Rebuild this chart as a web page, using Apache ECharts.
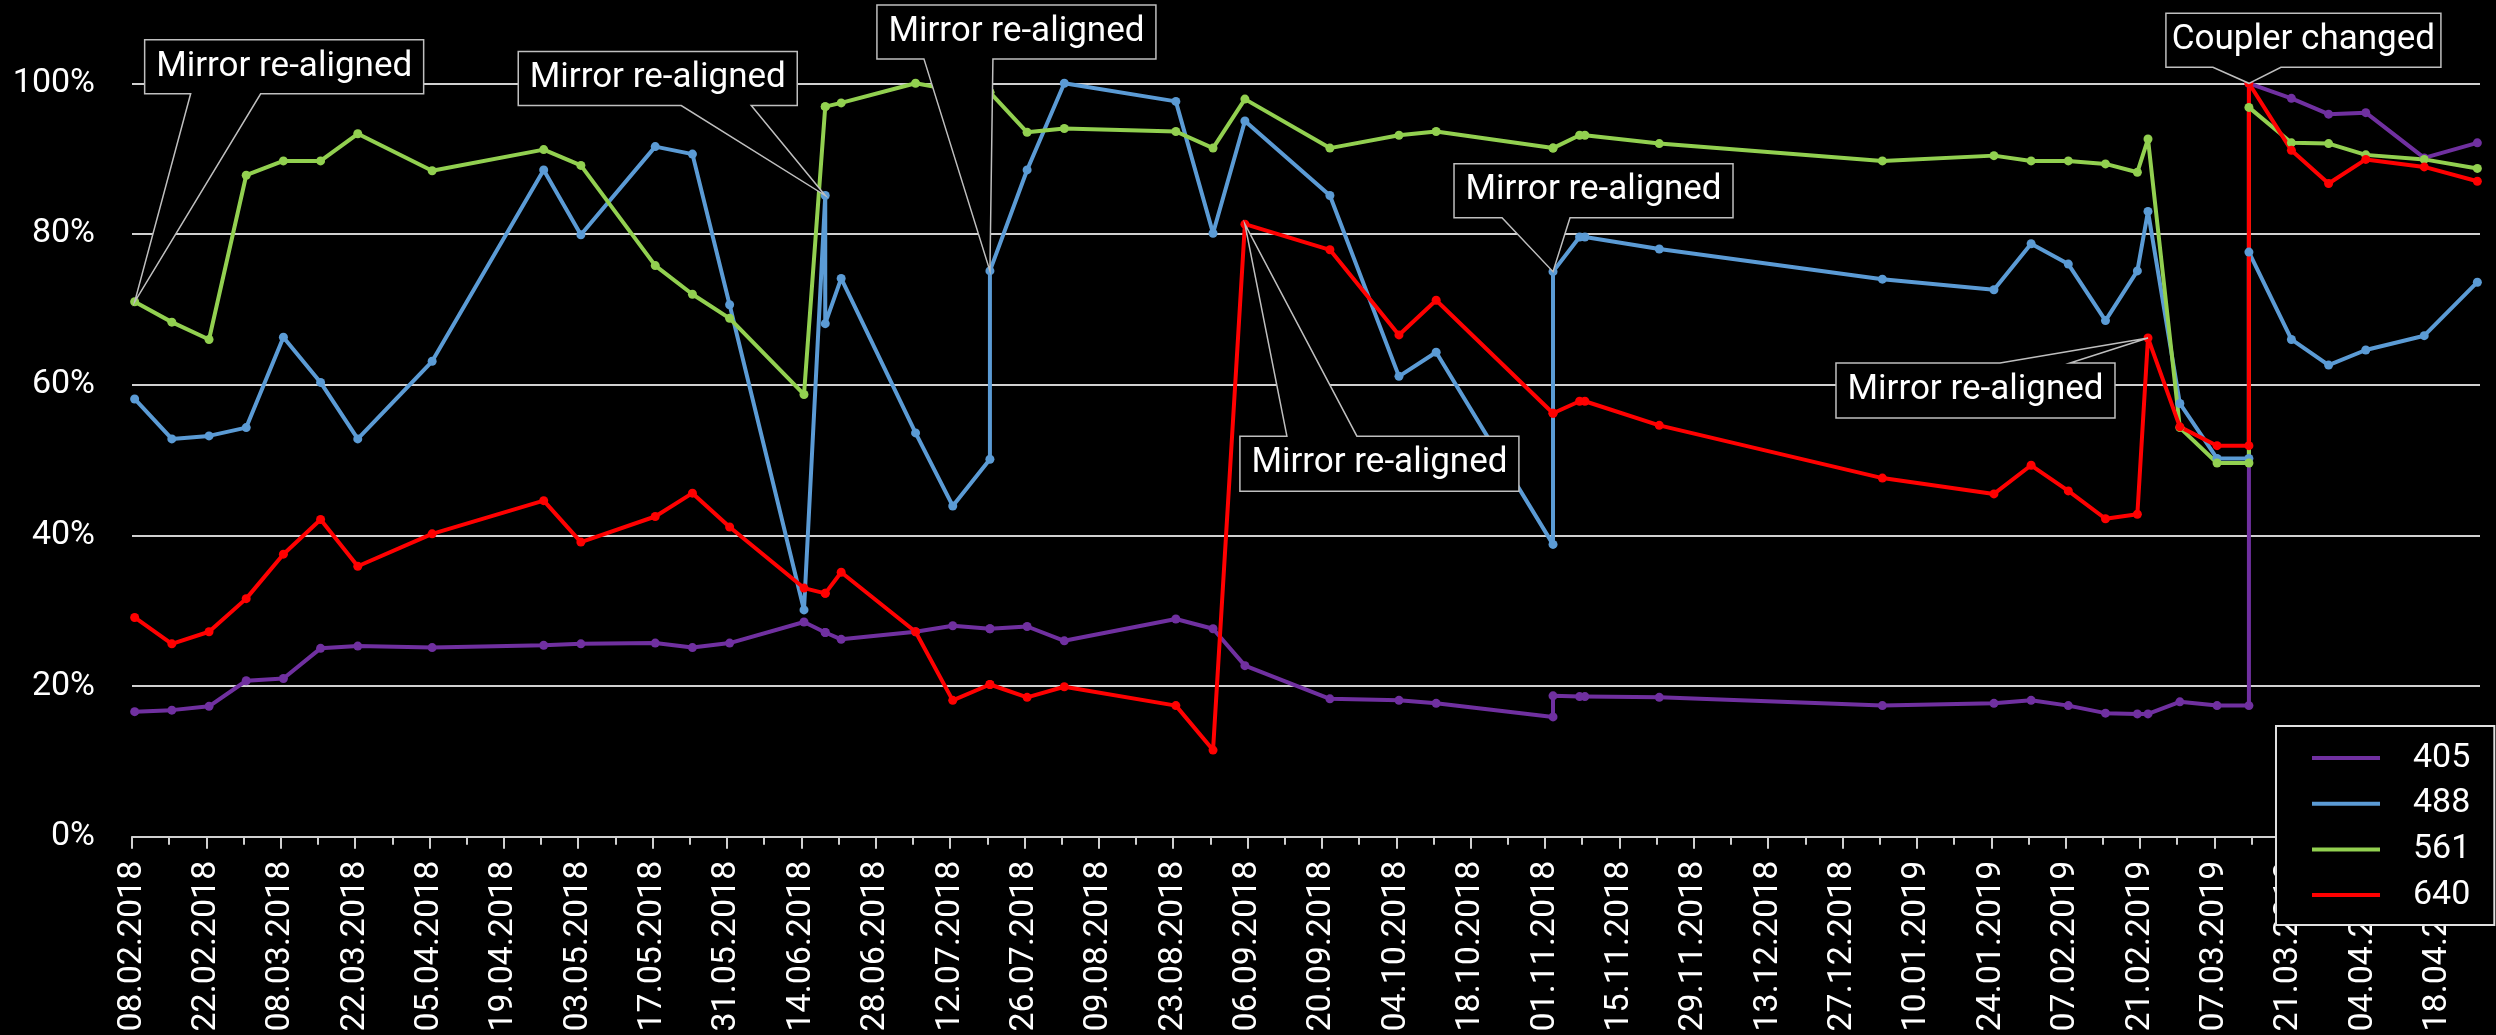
<!DOCTYPE html>
<html>
<head>
<meta charset="utf-8">
<script src="https://cdn.jsdelivr.net/npm/echarts@6/dist/echarts.min.js"></script>
<style>
  html, body { margin: 0; padding: 0; background: #000; }
  #chart { width: 2496px; height: 1035px; }
</style>
</head>
<body>
<div id="chart"></div>
<script>
// ---------------- DATA ----------------
const axisStart = '08.02.2018';
const axisEnd = '26.04.2019';
const dates = [
  '08.02.2018','15.02.2018','22.02.2018','01.03.2018','08.03.2018','15.03.2018','22.03.2018','05.04.2018',
  '26.04.2018','03.05.2018','17.05.2018','24.05.2018','31.05.2018','14.06.2018','18.06.2018','18.06.2018',
  '21.06.2018','05.07.2018','12.07.2018','19.07.2018','19.07.2018','26.07.2018','02.08.2018','23.08.2018',
  '30.08.2018','05.09.2018','21.09.2018','04.10.2018','11.10.2018','02.11.2018','02.11.2018','07.11.2018',
  '08.11.2018','22.11.2018','03.01.2019','24.01.2019','31.01.2019','07.02.2019','14.02.2019','20.02.2019',
  '22.02.2019','28.02.2019','07.03.2019','13.03.2019','13.03.2019','21.03.2019','28.03.2019','04.04.2019',
  '15.04.2019','25.04.2019'
];
const v405 = [
  16.6,16.8,17.3,20.7,21.0,25.0,25.3,25.1,
  25.4,25.6,25.7,25.1,25.7,28.5,27.1,27.1,
  26.2,27.2,28.0,27.6,27.6,27.9,26.0,28.9,
  27.6,22.7,18.3,18.1,17.7,15.9,18.7,18.6,
  18.6,18.5,17.4,17.7,18.1,17.4,16.4,16.3,
  16.3,17.9,17.4,17.4,100.0,98.0,95.9,96.1,
  90.1,92.1
];
const v488 = [
  58.1,52.8,53.2,54.3,66.3,60.3,52.8,63.1,
  88.5,79.9,91.6,90.6,70.6,30.1,85.1,68.1,
  74.1,53.6,43.9,50.1,75.1,88.5,100.0,97.6,
  80.1,95.0,85.1,61.1,64.3,38.8,75.0,79.6,
  79.6,78.0,74.0,72.6,78.7,76.0,68.5,75.1,
  83.0,57.5,50.2,50.2,77.6,66.0,62.6,64.6,
  66.5,73.6
];
const v561 = [
  71.0,68.3,66.0,87.8,89.7,89.7,93.3,88.4,
  91.2,89.1,75.8,72.0,68.8,58.7,96.9,96.9,
  97.4,100.0,99.1,98.8,98.8,93.5,94.0,93.6,
  91.4,97.9,91.4,93.1,93.6,91.4,91.4,93.1,
  93.1,92.0,89.7,90.4,89.7,89.7,89.3,88.2,
  92.6,54.3,49.6,49.6,96.8,92.1,92.0,90.5,
  89.9,88.7
];
const v640 = [
  29.1,25.6,27.2,31.6,37.5,42.1,35.9,40.2,
  44.6,39.1,42.5,45.6,41.1,33.0,32.3,32.3,
  35.1,27.2,18.1,20.2,20.2,18.5,19.9,17.4,
  11.5,81.3,77.9,66.6,71.2,56.2,56.2,57.8,
  57.8,54.6,47.6,45.5,49.3,45.9,42.2,42.8,
  66.2,54.4,51.9,51.9,100.0,91.1,86.7,89.9,
  88.9,87.0
];
const seriesNames = ['405','488','561','640'];
const yTickLabels = ['0%','20%','40%','60%','80%','100%'];

// Callouts: text + the data point each one points to (series name, row in the arrays above)
const annotationTexts = ['Mirror re-aligned','Mirror re-aligned','Mirror re-aligned','Mirror re-aligned',
                         'Mirror re-aligned','Mirror re-aligned','Coupler changed'];
const annotationAnchors = [['561',0],['488',14],['488',20],['488',30],['640',25],['640',40],['640',44]];

// ---------------- STYLE / LAYOUT ----------------
const colors = {'405':'#7030A0','488':'#5B9BD5','561':'#92D050','640':'#FF0000'};
const FONT = 'Roboto';
// box offset from anchor (px), size, side of the pointer and pointer base positions from box left
const calloutLayout = [
  {dx: 10,   dy: -262, w: 279, h: 54, side: 'bottom', b1: 46,  b2: 116},
  {dx: -307, dy: -144, w: 279, h: 54, side: 'bottom', b1: 163, b2: 233},
  {dx: -113, dy: -266, w: 279, h: 54, side: 'bottom', b1: 47,  b2: 116},
  {dx: -99,  dy: -108, w: 279, h: 54, side: 'bottom', b1: 48,  b2: 116},
  {dx: -5,   dy: 212,  w: 279, h: 55, side: 'top',    b1: 47,  b2: 117},
  {dx: -312, dy: 25,   w: 279, h: 55, side: 'top',    b1: 164, b2: 234},
  {dx: -83,  dy: -70,  w: 275, h: 54, side: 'bottom', b1: 47,  b2: 115}
];

// ---------------- HELPERS ----------------
function toUTC(s) { const p = s.split('.').map(Number); return Date.UTC(p[2], p[1] - 1, p[0]); }
const DAY = 86400000;
const t0 = toUTC(axisStart);
function dayIndex(s) { return Math.round((toUTC(s) - t0) / DAY); }
function fmtDay(d) {
  const t = new Date(t0 + d * DAY);
  const dd = String(t.getUTCDate()).padStart(2, '0');
  const mm = String(t.getUTCMonth() + 1).padStart(2, '0');
  return dd + '.' + mm + '.' + t.getUTCFullYear();
}
// Excel date axis "between tick marks": a date sits in the middle of its day slot
const xs = dates.map(d => dayIndex(d) + 0.5);
const valueArrays = {'405': v405, '488': v488, '561': v561, '640': v640};

const lineSeries = seriesNames.map(name => ({
  name: name,
  type: 'line',
  data: xs.map((x, i) => [x, valueArrays[name][i]]),
  color: colors[name],
  symbol: 'circle',
  symbolSize: 9,
  showSymbol: true,
  lineStyle: { width: 4, color: colors[name] },
  itemStyle: { color: colors[name] },
  z: 2,
  animation: false
}));

const calloutData = annotationAnchors.map(a => [xs[a[1]], valueArrays[a[0]][a[1]]]);

const calloutSeries = {
  type: 'custom',
  name: 'callouts',
  data: calloutData,
  clip: false,
  silent: true,
  z: 5,
  animation: false,
  renderItem: function (params, api) {
    const a = calloutLayout[params.dataIndex];
    const p = api.coord([api.value(0), api.value(1)]);
    const L = p[0] + a.dx, T = p[1] + a.dy, R = L + a.w, B = T + a.h;
    let pts;
    if (a.side === 'bottom') {
      pts = [[L, T], [R, T], [R, B], [L + a.b2, B], [p[0], p[1]], [L + a.b1, B], [L, B]];
    } else {
      pts = [[L, T], [L + a.b1, T], [p[0], p[1]], [L + a.b2, T], [R, T], [R, B], [L, B]];
    }
    return {
      type: 'group',
      children: [
        { type: 'polygon', shape: { points: pts },
          style: { fill: '#000', stroke: '#BFBFBF', lineWidth: 1.5 } },
        { type: 'text',
          style: { x: (L + R) / 2, y: (T + B) / 2, text: annotationTexts[params.dataIndex],
                   fill: '#fff', font: '35px ' + FONT, align: 'center', verticalAlign: 'middle' } }
      ]
    };
  }
};

const chart = echarts.init(document.getElementById('chart'), null, { renderer: 'canvas' });
chart.setOption({
  backgroundColor: '#000',
  animation: false,
  grid: { left: 132, right: 16, top: 83.3, bottom: 198.3, containLabel: false },
  xAxis: {
    type: 'value',
    min: 0,
    max: dayIndex(axisEnd),
    interval: 14,
    axisLine: { show: true, lineStyle: { color: '#D0D0D0', width: 2 } },
    axisTick: { show: true, length: 12, lineStyle: { color: '#D0D0D0', width: 2 } },
    minorTick: { show: true, splitNumber: 2, length: 8, lineStyle: { color: '#D0D0D0', width: 2 } },
    splitLine: { show: false },
    axisLabel: {
      rotate: 90, margin: 24, color: '#fff', fontSize: 34, fontFamily: FONT,
      formatter: v => (v % 14 === 0 ? fmtDay(v) : '')
    }
  },
  yAxis: {
    type: 'value',
    min: 0, max: 100, interval: 20,
    axisLine: { show: false },
    axisTick: { show: false },
    splitLine: { show: true, lineStyle: { color: '#D0D0D0', width: 2 } },
    axisLabel: {
      color: '#fff', fontSize: 34, fontFamily: FONT, margin: 37,
      formatter: v => yTickLabels[Math.round(v / 20)]
    }
  },
  legend: {
    data: seriesNames,
    orient: 'vertical',
    left: 2276, top: 726,
    padding: [15, 24, 13, 36],
    itemWidth: 68, itemHeight: 4, itemGap: 11.7,
    icon: 'rect',
    backgroundColor: '#000',
    borderColor: '#E0E0E0', borderWidth: 2,
    textStyle: { color: '#fff', fontSize: 34, fontFamily: FONT, padding: [0, 0, 0, 28] },
    z: 10
  },
  series: lineSeries.concat([calloutSeries])
});
</script>
</body>
</html>
